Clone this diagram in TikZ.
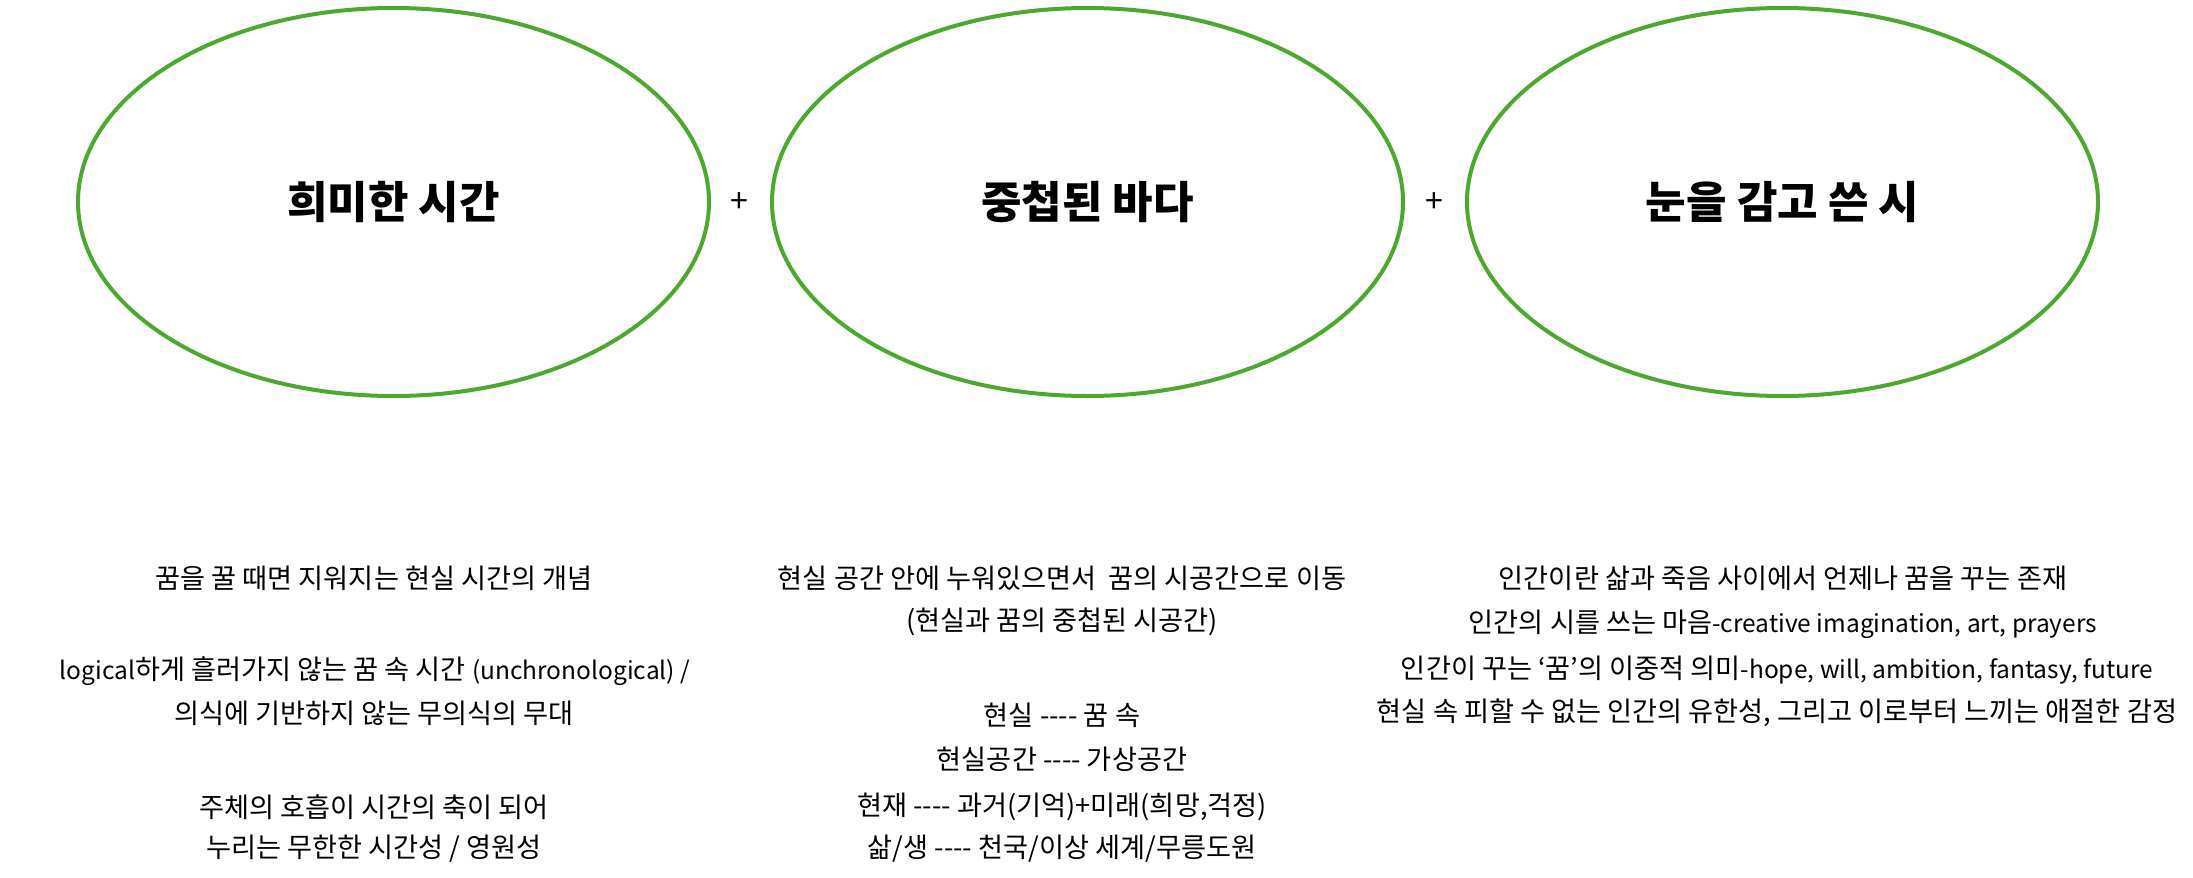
\documentclass[tikz,border=0pt]{standalone}
\usepackage{fontspec}
\setmainfont{Noto Sans CJK KR}
\usetikzlibrary{shapes.geometric}
\definecolor{ovalgreen}{RGB}{78,167,46}
\newcommand{\lat}[1]{{\fontsize{24.5}{30}\selectfont #1}}
\newcommand{\fourdash}{\mbox{-}\mbox{-}\mbox{-}\mbox{-}}
\tikzset{
  oval/.style={draw=ovalgreen, line width=4pt, ellipse, minimum width=631pt, minimum height=388pt, inner sep=0pt, font=\fontsize{44}{50}\selectfont\bfseries},
  plus/.style={font=\fontsize{32}{36}\selectfont, inner sep=0pt},
  body/.style={font=\fontsize{27.2}{32}\selectfont, inner sep=0pt, anchor=center}
}
\begin{document}
\begin{tikzpicture}[x=1pt,y=-1pt]
\useasboundingbox (0,0) rectangle (2193,878);
\node[oval] (o1) at (393.5,202) {희미한 시간};
\node[oval] (o2) at (1087.5,202) {중첩된 바다};
\node[oval] (o3) at (1782.5,202) {눈을 감고 쓴 시};
\node[plus] (p1) at (739,203) {+};
\node[plus] (p2) at (1434,203) {+};
% column 1
\node[body] (a1) at (374,578) {꿈을 꿀 때면 지워지는 현실 시간의 개념};
\node[body] (a2) at (375,671) {\lat{logical}하게 흘러가지 않는 꿈 속 시간 \lat{(unchronological) /}};
\node[body] (a3) at (374,713) {의식에 기반하지 않는 무의식의 무대};
\node[body] (a4) at (374,807) {주체의 호흡이 시간의 축이 되어};
\node[body] (a5) at (374,849) {누리는 무한한 시간성 / 영원성};
% column 2
\node[body] (b1) at (1062,578) {현실 공간 안에 누워있으면서\ \ 꿈의 시공간으로 이동};
\node[body] (b2) at (1062,622) {(현실과 꿈의 중첩된 시공간)};
\node[body] (b3) at (1062,715) {현실 \fourdash{} 꿈 속};
\node[body] (b4) at (1062,759) {현실공간 \fourdash{} 가상공간};
\node[body] (b5) at (1062,807) {현재 \fourdash{} 과거(기억)+미래(희망,걱정)};
\node[body] (b6) at (1062,849) {삶/생 \fourdash{} 천국/이상 세계/무릉도원};
% column 3
\node[body] (c1) at (1783,578) {인간이란 삶과 죽음 사이에서 언제나 꿈을 꾸는 존재};
\node[body] (c2) at (1783,624) {인간의 시를 쓰는 마음\lat{-creative imagination, art, prayers}};
\node[body] (c3) at (1777,670) {인간이 꾸는 ‘꿈’의 이중적 의미\lat{-hope, will, ambition, fantasy, future}};
\node[body] (c4) at (1777,713) {현실 속 피할 수 없는 인간의 유한성, 그리고 이로부터 느끼는 애절한 감정};
\end{tikzpicture}
\end{document}
